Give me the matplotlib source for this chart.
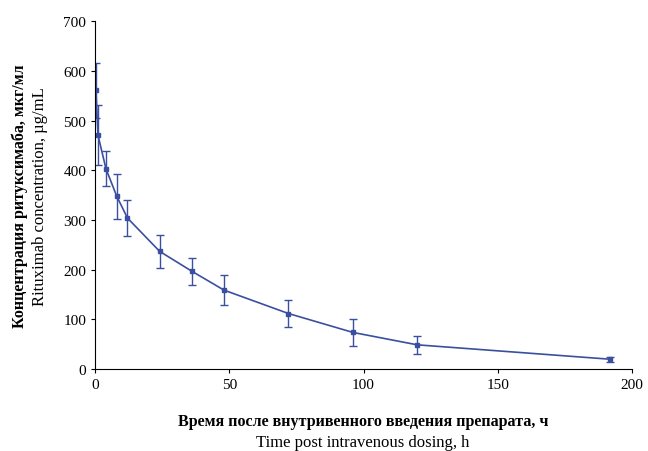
import matplotlib
matplotlib.use("Agg")
import matplotlib.pyplot as plt

time_h = [0.25, 1, 4, 8, 12, 24, 36, 48, 72, 96, 120, 192]
conc = [561, 471, 403, 348, 304, 237, 197, 159, 112, 74, 49, 20]
err = [55, 60, 35, 45, 37, 33, 27, 30, 28, 27, 18, 5]

plt.rcParams['font.family'] = ['Liberation Serif', 'DejaVu Serif']
color = '#3a4fa0'

fig = plt.figure(figsize=(6.48, 4.52), dpi=100)
ax = fig.add_axes([0.147, 0.181, 0.828, 0.77])
ax.errorbar(time_h, conc, yerr=err, color=color, marker='s', markersize=3.5,
            linewidth=1.2, elinewidth=1, capsize=3)
ax.set_xlim(0, 200)
ax.set_ylim(0, 700)
ax.set_xticks(range(0, 201, 50))
ax.set_yticks(range(0, 701, 100))
ax.tick_params(labelsize=11, direction='out', length=3)
for s in ['top', 'right']:
    ax.spines[s].set_visible(False)

fig.text(0.56, 0.058, 'Время после внутривенного введения препарата, ч',
         ha='center', fontsize=11.5, fontweight='bold')
fig.text(0.56, 0.012, 'Time post intravenous dosing, h', ha='center', fontsize=12)
fig.text(0.018, 0.565, 'Концентрация ритуксимаба, мкг/мл', rotation=90,
         va='center', fontsize=11.5, fontweight='bold')
fig.text(0.05, 0.565, 'Rituximab concentration, µg/mL', rotation=90,
         va='center', fontsize=12)

fig.savefig('out.png', dpi=100)
